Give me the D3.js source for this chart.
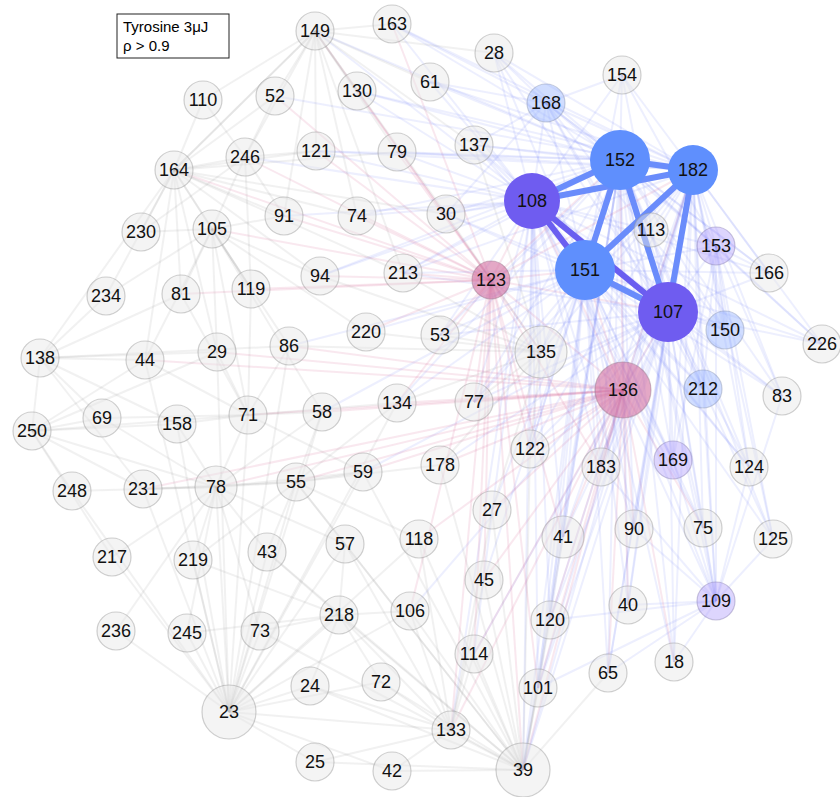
<!DOCTYPE html>
<html><head><meta charset="utf-8">
<script src="https://cdn.jsdelivr.net/npm/d3@7"></script>
<style>body{margin:0;background:#fff}text{font-family:"Liberation Sans",Arial,sans-serif}</style>
</head><body>
<svg id="net" width="840" height="797"></svg>
<script>
// node id, x, y, radius, group
const nodeIds = [149,163,28,154,110,52,130,61,168,152,182,164,246,121,79,137,108,230,105,91,74,30,113,153,234,81,119,94,213,123,151,107,166,138,44,29,86,220,53,135,150,226,136,212,83,250,69,158,71,58,134,77,122,183,169,124,248,231,78,55,59,178,27,75,125,90,41,217,219,43,57,118,45,109,236,245,73,218,106,120,40,114,65,18,23,24,72,101,133,25,42,39];
const nodeX = [315,392,494,622,203,275,357,430,546,620,693,174,245,316,397,474,532,141,212,284,357,446,651,716,106,181,251,320,403,491,585,668,769,40,145,217,289,366,440,541,725,822,623,703,782,32,102,177,248,322,397,474,530,601,673,749,72,143,216,296,363,440,492,703,773,634,563,112,193,267,345,419,484,716,116,187,260,339,410,550,628,474,608,674,229,310,381,538,451,315,392,523];
const nodeY = [31,24,53,75,100,96,91,82,103,160,170,170,157,151,152,145,201,232,229,216,216,214,230,246,296,294,289,276,273,280,270,312,273,358,360,352,346,332,335,352,330,344,390,389,396,431,418,424,415,412,403,402,449,467,460,467,491,489,487,482,472,465,510,528,539,529,537,557,560,552,544,539,580,601,631,633,631,615,611,620,605,654,673,662,712,686,682,688,730,762,771,770];
const bigR = {152:30,182:25,108:28,151:30,107:30,135:26,136:28,23:27,39:27,78:21,41:21,113:17};
const nodeGroup = {152:"blue",182:"blue",151:"blue",108:"purple",107:"purple",123:"pink",136:"pink",
  168:"lblue",150:"lblue",212:"lblue",153:"lpurple",169:"lpurple",109:"lpurple"};

// strong correlations inside the cluster
const strongEdges = [[152,182],[152,108],[108,182],[152,151],[152,107],[182,151],[182,107],[108,151],[108,107],[151,107]];
// faint links, per hub
const hubLinks = {
  152:[168,154,28,137,30,123,136,135,150,212,153,166,226,83,169,124,109,75,125,90,41,183,122,77,213,61,163,149,130,79,121,53,39,101,120,65,18,40,113,74,94,134],
  182:[168,154,28,137,30,123,136,135,150,212,153,166,226,83,169,124,109,75,125,90,41,183,122,77,213,61,163,130,79,39,101,120,65,18,40,113,121,52],
  108:[168,154,28,137,30,123,136,135,150,212,153,166,226,83,169,124,109,75,90,41,183,122,77,213,61,163,149,130,79,121,74,94,53,39,101,120,114,133,91,246],
  151:[168,154,28,137,30,123,136,135,150,212,153,166,226,83,169,124,109,75,125,90,41,183,122,77,213,53,220,134,39,101,120,65,18,40,45,27,86,58],
  107:[168,154,28,137,30,123,136,135,150,212,153,166,226,83,169,124,109,75,125,90,41,183,122,77,213,53,39,101,120,65,18,40,114,106,178,59],
  168:[28,154,61,137,163,30,150,153,166,212],
  153:[166,226,150,212,83,124,169,125,109,154],
  109:[169,124,125,75,90,40,18,65,183,212,83,120,101],
  123:[164,246,121,91,74,94,213,105,119,81,52,130,79,136,135,77,134,53,220,183,41,45,106,133,114,122,39,101,149,163],
  136:[71,58,134,77,178,59,55,78,231,122,183,41,90,27,118,45,120,114,133,101,39,65,86,29,44,18,40,75],
  23:[24,72,25,42,133,73,245,219,43,57,218,106,78,55,59,231,217,236,248,158,71,58,134,44,29,86,118],
  39:[133,42,25,101,114,120,106,118,45,27,41,57,218,65,72,24,73,43,178,122,59,55],
  164:[110,52,246,121,91,105,230,234,81,119,138,44,29,79,30,74,149,94,213],
  149:[163,130,52,121,79,61,28,137,110,246,164,91,74,30,213],
  250:[69,138,248,231,44,158,217,29,71,78],
  138:[44,69,234,81,29,86,158,231],
  105:[230,234,81,119,91,29,44,71,86,94,58,220],
  78:[231,248,69,158,71,55,59,43,219,217,57,58,236,245,73],
  135:[213,53,220,77,134,122,30,137,94,86,178,27],
  133:[114,106,218,57,118,24,72,25,42,45,27],
  71:[29,86,58,44,158,69,119,81,134,59],
  55:[59,58,43,57,219,231,118,178,134],
  246:[110,52,121,91,105,119,230],
  218:[73,43,57,106,245,24,72,219]
};

const svg = d3.select("#net");
const nodes = nodeIds.map((id, i) => ({id, x: nodeX[i], y: nodeY[i], r: bigR[id] || 19, g: nodeGroup[id] || "gray"}));
const byId = new Map(nodes.map(d => [d.id, d]));

const fill = {blue:"#5f8ffd", purple:"#6f5cf0", pink:"rgba(210,110,160,0.6)", lblue:"rgba(150,180,255,0.45)",
  lpurple:"rgba(170,150,250,0.4)", gray:"rgba(230,230,230,0.45)"};
const stroke = {blue:"none", purple:"none", pink:"rgba(150,120,140,0.45)", lblue:"rgba(140,150,180,0.45)",
  lpurple:"rgba(140,130,180,0.45)", gray:"rgba(150,150,150,0.45)"};

function edgeColor(a, b) {
  const gs = [a.g, b.g];
  if (gs.includes("pink")) return "rgba(210,90,140,0.14)";
  if (gs.some(g => g !== "gray")) return "rgba(110,120,245,0.12)";
  return "rgba(150,150,150,0.13)";
}

const faint = [];
Object.entries(hubLinks).forEach(([h, list]) => list.forEach(t => faint.push([+h, t])));

svg.append("g").selectAll("line").data(faint).join("line")
  .attr("x1", d => byId.get(d[0]).x).attr("y1", d => byId.get(d[0]).y)
  .attr("x2", d => byId.get(d[1]).x).attr("y2", d => byId.get(d[1]).y)
  .attr("stroke", d => edgeColor(byId.get(d[0]), byId.get(d[1])))
  .attr("stroke-width", 2);

svg.append("g").selectAll("line").data(strongEdges).join("line")
  .attr("x1", d => byId.get(d[0]).x).attr("y1", d => byId.get(d[0]).y)
  .attr("x2", d => byId.get(d[1]).x).attr("y2", d => byId.get(d[1]).y)
  .attr("stroke", d => (byId.get(d[0]).g === "purple" && byId.get(d[1]).g === "purple") || (d[0]===108&&d[1]===151) ? "#6a5ef0" : "#6a8cfb")
  .attr("stroke-width", 6);

const g = svg.append("g").selectAll("g").data(nodes).join("g")
  .attr("transform", d => `translate(${d.x},${d.y})`);
g.append("circle").attr("r", d => d.r)
  .attr("fill", d => fill[d.g]).attr("stroke", d => stroke[d.g]).attr("stroke-width", 1.2);
g.append("text").text(d => d.id).attr("text-anchor", "middle").attr("dy", "0.36em")
  .attr("font-size", 18).attr("fill", "#111");

const legend = svg.append("g").attr("transform", "translate(117,14)");
legend.append("rect").attr("width", 112).attr("height", 44).attr("fill", "#fff").attr("stroke", "#222");
legend.append("text").attr("x", 6).attr("y", 18).attr("font-size", 15).text("Tyrosine 3μJ");
legend.append("text").attr("x", 6).attr("y", 37).attr("font-size", 15).text("ρ > 0.9");
</script>
</body></html>
